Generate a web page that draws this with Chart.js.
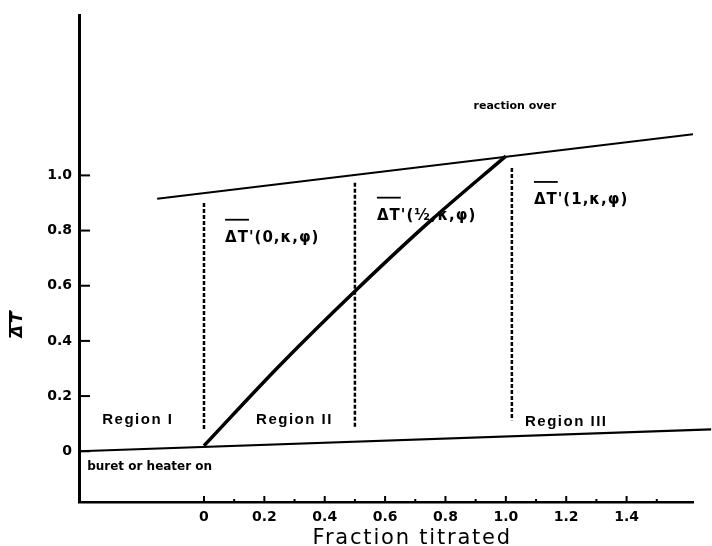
<!DOCTYPE html>
<html>
<head>
<meta charset="utf-8">
<title>Fraction titrated</title>
<script src="https://cdn.jsdelivr.net/npm/chart.js@4.4.1/dist/chart.umd.min.js"></script>
<style>
  body { margin: 0; background: #fff; }
  canvas { display: block; }
</style>
</head>
<body>
<canvas id="myChart" width="712" height="546"></canvas>
<script>
// titration curve -- fraction titrated vs mean delta T
const titrationX = [0, 0.25, 0.5, 0.75, 1.0];
const titrationY = [0.02, 0.31, 0.58, 0.835, 1.07];

// "reaction over" line
const upperX = [-0.155, 1.625];
const upperY = [0.915, 1.15];

// "buret or heater on" line (runs a bit past the end of the axis)
const lowerX = [-0.414, 1.68];
const lowerY = [0.0, 0.079];

// dotted markers at 0, 1/2 and 1
const markerX = [0, 0.5, 1.02];
const markerTop = [0.90, 0.973, 1.027];
const markerBottom = [0.076, 0.087, 0.112];

// tick labels
const xTicks = [0, 0.2, 0.4, 0.6, 0.8, 1.0, 1.2, 1.4];
const xTickLabels = ["0", "0.2", "0.4", "0.6", "0.8", "1.0", "1.2", "1.4"];
const xMinorTicks = [0.1, 0.3, 0.5, 0.7, 0.9, 1.1, 1.3, 1.5];
const yTicks = [0, 0.2, 0.4, 0.6, 0.8, 1.0];
const yTickLabels = ["0", "0.2", "0.4", "0.6", "0.8", "1.0"];

// text written on the plot, placed in data units
const notes = [
    { text: "reaction over", x: 1.03, y: 1.251, font: "bold 11px 'DejaVu Sans'", align: "center", spacing: "0px" },
    { text: "Region I", x: -0.219, y: 0.112, font: "bold 15px 'Liberation Sans'", align: "center", spacing: "1.5px" },
    { text: "Region II", x: 0.30, y: 0.112, font: "bold 15px 'Liberation Sans'", align: "center", spacing: "1.5px" },
    { text: "Region III", x: 1.20, y: 0.105, font: "bold 15px 'Liberation Sans'", align: "center", spacing: "1.5px" },
    { text: "buret or heater on", x: -0.387, y: -0.058, font: "bold 12px 'DejaVu Sans'", align: "left", spacing: "0px" },
    { text: "\u0394T'(0,\u03ba,\u03c6)", x: 0.07, y: 0.774, font: "bold 15px 'DejaVu Sans'", align: "left", spacing: "1px", bar: true },
    { text: "\u0394T'(\u00bd,\u03ba,\u03c6)", x: 0.573, y: 0.854, font: "bold 15px 'DejaVu Sans'", align: "left", spacing: "1px", bar: true },
    { text: "\u0394T'(1,\u03ba,\u03c6)", x: 1.093, y: 0.911, font: "bold 15px 'DejaVu Sans'", align: "left", spacing: "1px", bar: true }
];

function toPoints(xs, ys) {
    return xs.map((x, i) => ({ x: x, y: ys[i] }));
}

let datasets = [
    { data: toPoints(titrationX, titrationY), borderWidth: 3.5, tension: 0.4, cubicInterpolationMode: 'monotone' },
    { data: toPoints(upperX, upperY), borderWidth: 2 },
    { data: toPoints(lowerX, lowerY), borderWidth: 2.2, clip: false }
];
markerX.forEach((x, i) => {
    datasets.push({
        data: [{ x: x, y: markerTop[i] }, { x: x, y: markerBottom[i] }],
        borderWidth: 2.5,
        borderDash: [4, 2]
    });
});
datasets.forEach(d => {
    d.borderColor = '#000';
    d.pointRadius = 0;
    d.fill = false;
});

// inward ticks, notes and axis titles
const extras = {
    id: 'extras',
    afterDraw(chart) {
        const ctx = chart.ctx;
        const xs = chart.scales.x;
        const ys = chart.scales.y;
        const area = chart.chartArea;
        ctx.save();
        ctx.strokeStyle = '#000';
        ctx.fillStyle = '#000';
        ctx.lineWidth = 2;

        yTicks.forEach(v => {
            const py = ys.getPixelForValue(v);
            ctx.beginPath();
            ctx.moveTo(area.left, py);
            ctx.lineTo(area.left + 11, py);
            ctx.stroke();
        });
        xTicks.forEach(v => {
            const px = xs.getPixelForValue(v);
            ctx.beginPath();
            ctx.moveTo(px, area.bottom);
            ctx.lineTo(px, area.bottom - 6);
            ctx.stroke();
        });
        xMinorTicks.forEach(v => {
            const px = xs.getPixelForValue(v);
            ctx.beginPath();
            ctx.moveTo(px, area.bottom);
            ctx.lineTo(px, area.bottom - 3);
            ctx.stroke();
        });

        ctx.textBaseline = 'middle';
        notes.forEach(n => {
            const px = xs.getPixelForValue(n.x);
            const py = ys.getPixelForValue(n.y);
            ctx.font = n.font;
            ctx.letterSpacing = n.spacing;
            ctx.textAlign = n.align;
            ctx.fillText(n.text, px, py);
            if (n.bar) {
                const w = ctx.measureText("\u0394T").width;
                ctx.lineWidth = 1.8;
                ctx.beginPath();
                ctx.moveTo(px, py - 18);
                ctx.lineTo(px + w, py - 18);
                ctx.stroke();
            }
        });

        // y title: mean delta T, rotated, with a bar over it
        ctx.save();
        ctx.translate(17.5, ys.getPixelForValue(0.462));
        ctx.rotate(-Math.PI / 2);
        ctx.font = "italic bold 16px 'DejaVu Sans'";
        ctx.letterSpacing = '2px';
        ctx.textAlign = 'center';
        ctx.fillText("\u0394T", 0, 0);
        const tw = ctx.measureText("\u0394T").width;
        ctx.lineWidth = 2;
        ctx.beginPath();
        ctx.moveTo(-tw / 2, -7.5);
        ctx.lineTo(tw / 2, -7.5);
        ctx.stroke();
        ctx.restore();

        // x title
        ctx.font = "21px 'DejaVu Sans'";
        ctx.letterSpacing = '1.8px';
        ctx.textAlign = 'center';
        ctx.textBaseline = 'alphabetic';
        ctx.fillText("Fraction titrated", xs.getPixelForValue(0.69), 544);
        ctx.restore();
    }
};

const myChart = document.getElementById('myChart');

let lineChart = new Chart(myChart, {
    type: 'line',
    data: { datasets: datasets },
    options: {
        responsive: false,
        animation: false,
        layout: { padding: { top: 14, right: 19, bottom: 0, left: 0 } },
        plugins: {
            legend: { display: false },
            tooltip: { enabled: false }
        },
        scales: {
            x: {
                type: 'linear',
                min: -0.414,
                max: 1.62,
                afterBuildTicks: scale => { scale.ticks = xTicks.map(v => ({ value: v })); },
                afterFit: scale => { scale.height = 44; },
                grid: { drawOnChartArea: false, drawTicks: false },
                border: { color: '#000', width: 2.5 },
                ticks: {
                    color: '#000',
                    padding: 7,
                    maxRotation: 0,
                    autoSkip: false,
                    font: { family: 'DejaVu Sans', size: 14, weight: 'bold' },
                    callback: (value, index) => xTickLabels[index]
                }
            },
            y: {
                type: 'linear',
                min: -0.184,
                max: 1.58,
                afterBuildTicks: scale => { scale.ticks = yTicks.map(v => ({ value: v })); },
                afterFit: scale => { scale.width = 79; },
                grid: { drawOnChartArea: false, drawTicks: false },
                border: { color: '#000', width: 3 },
                ticks: {
                    color: '#000',
                    padding: 7,
                    autoSkip: false,
                    font: { family: 'DejaVu Sans', size: 14, weight: 'bold' },
                    callback: (value, index) => yTickLabels[index]
                }
            }
        }
    },
    plugins: [extras]
});
</script>
</body>
</html>
